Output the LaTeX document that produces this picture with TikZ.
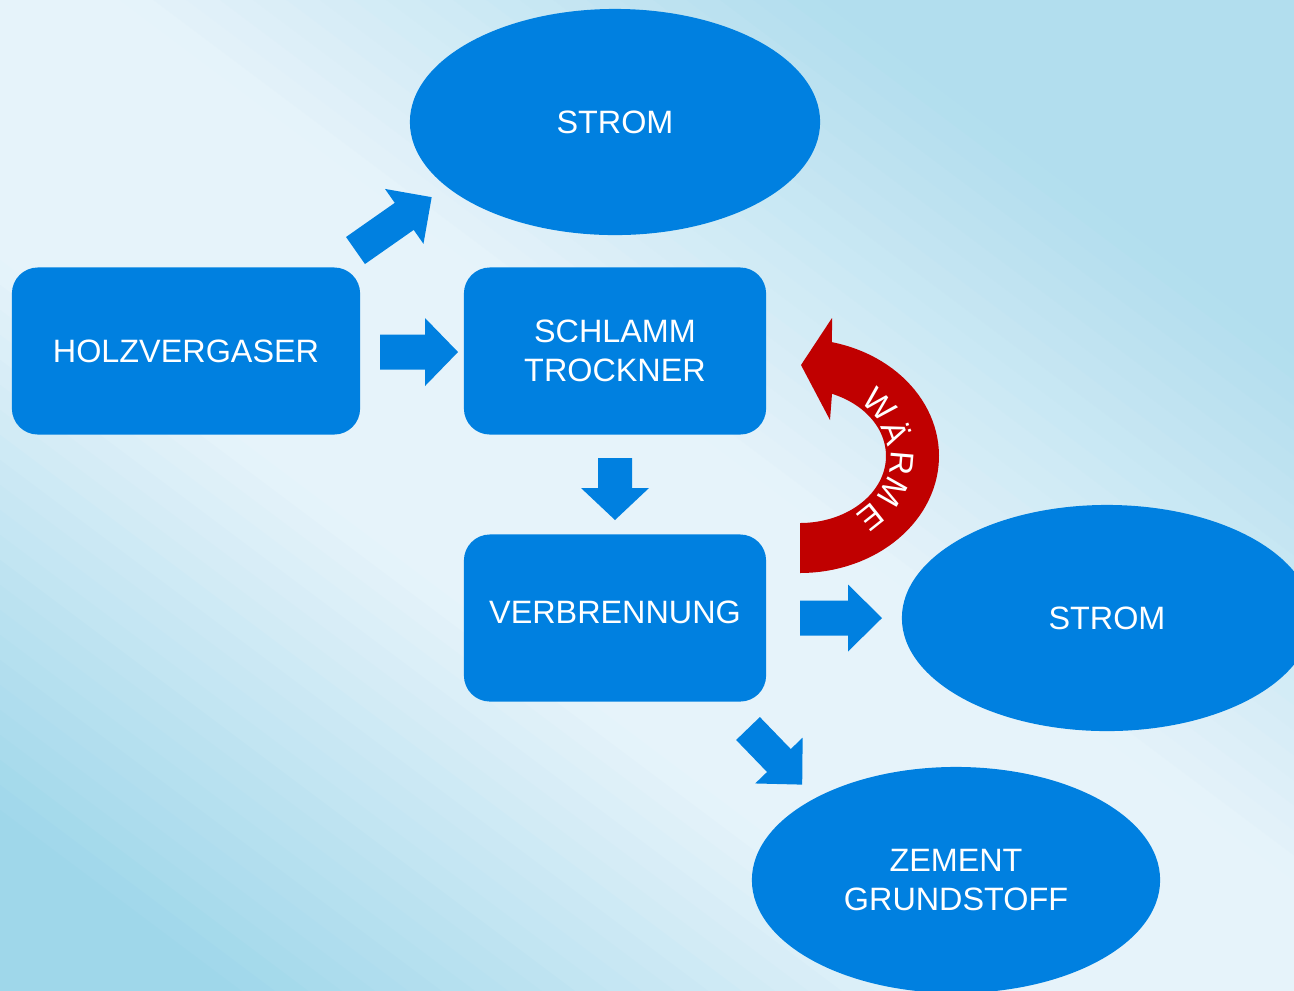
\documentclass[tikz,border=0pt]{standalone}
\usepackage{fontspec}
\setmainfont{Liberation Sans}
\usetikzlibrary{shapes.geometric}
\definecolor{boxblue}{HTML}{0080E0}
\definecolor{heatred}{HTML}{C00000}
\definecolor{bgA}{HTML}{B2DEEE}
\definecolor{bgB}{HTML}{E6F3FA}
\definecolor{bgC}{HTML}{9FD7EA}
% tail x, tail y, angle, length, shaft width, head width, head length
\newcommand\blockarrow[7]{%
  \fill[boxblue, shift={(#1,#2)}, rotate=#3]
    (0,{#5/2}) -- ({#4-#7},{#5/2}) -- ({#4-#7},{#6/2}) -- (#4,0)
    -- ({#4-#7},{-#6/2}) -- ({#4-#7},{-#5/2}) -- (0,{-#5/2}) -- cycle;}
\begin{document}
\begin{tikzpicture}[x=0.01cm,y=-0.01cm,
  oval/.style={ellipse, fill=boxblue, text=white, minimum width=4.1cm, minimum height=2.26cm, inner sep=0pt, align=center, font=\fontsize{9.2}{11.2}\selectfont},
  box/.style={rectangle, rounded corners=0.26cm, fill=boxblue, text=white, minimum width=3.02cm, minimum height=1.67cm, inner sep=0pt, align=center, font=\fontsize{9.2}{11.2}\selectfont},
  txt/.style={text=white, inner sep=0pt, align=center, font=\fontsize{9.2}{11.2}\selectfont},
  heat/.style={text=white, inner sep=0pt, font=\fontsize{9.4}{10}\selectfont}]
\useasboundingbox (0,0) rectangle (1294,990);
\clip (0,0) rectangle (1294,990);
% background: diagonal gradient built from bands
\foreach \s in {-820,-800,...,800} {
  \pgfmathsetmacro\p{\s+10}
  \pgfmathsetmacro\a{max(0,min(100,(\p+650)/450*100))}
  \pgfmathsetmacro\b{max(0,min(100,(\p-80)/420*100))}
  \ifdim\p pt<0pt \colorlet{bandcol}{bgB!\a!bgC}\else\colorlet{bandcol}{bgA!\b!bgB}\fi
  \fill[bandcol]
    ({647+0.6*\s-0.8*1100},{495-0.8*\s-0.6*1100}) --
    ({647+0.6*\s+0.8*1100},{495-0.8*\s+0.6*1100}) --
    ({647+0.6*(\s+21)+0.8*1100},{495-0.8*(\s+21)+0.6*1100}) --
    ({647+0.6*(\s+21)-0.8*1100},{495-0.8*(\s+21)-0.6*1100}) -- cycle;
}

% nodes
\node[oval] (strom1) at (615,122) {STROM};
\node[box, minimum width=3.48cm] (holz) at (186,351) {HOLZVERGASER};
\node[box] (schlamm) at (615,351) {SCHLAMM\\TROCKNER};
\node[box] (verb) at (615,618) {};
\node[txt] (verbtxt) at (615,612) {VERBRENNUNG};
\node[oval] (strom2) at (1107,618) {STROM};
\node[oval, minimum width=4.08cm] (zement) at (956,880) {ZEMENT\\GRUNDSTOFF};

% block arrows
\blockarrow{355.5}{250.5}{35}{93}{33}{67}{33.5}
\blockarrow{380}{352}{0}{78}{35}{68}{33}
\blockarrow{615}{458}{-90}{62}{34}{68}{32}
\blockarrow{800}{618}{0}{82}{35}{67}{34}
\blockarrow{748}{728.5}{-46}{78}{33}{66}{33.5}

% heat arrow
\fill[heatred] plot[domain=90:-76.7, samples=60] ({800+139*cos(\x)},{456+117*sin(\x)})
  -- (832,318) -- (801,365) -- (830,420) -- (832,394)
  -- plot[domain=-68.2:90, samples=60] ({800+86*cos(\x)},{456+67*sin(\x)}) -- cycle;
\foreach \l/\t [count=\i] in {W/-39,Ä/-17,R/4,M/25,E/46}
  \node[heat, rotate={atan2(-84*cos(\t),-102*sin(\t))}] (heat\i) at ({800+102*cos(\t)},{457+84*sin(\t)}) {\l};
\end{tikzpicture}
\end{document}
